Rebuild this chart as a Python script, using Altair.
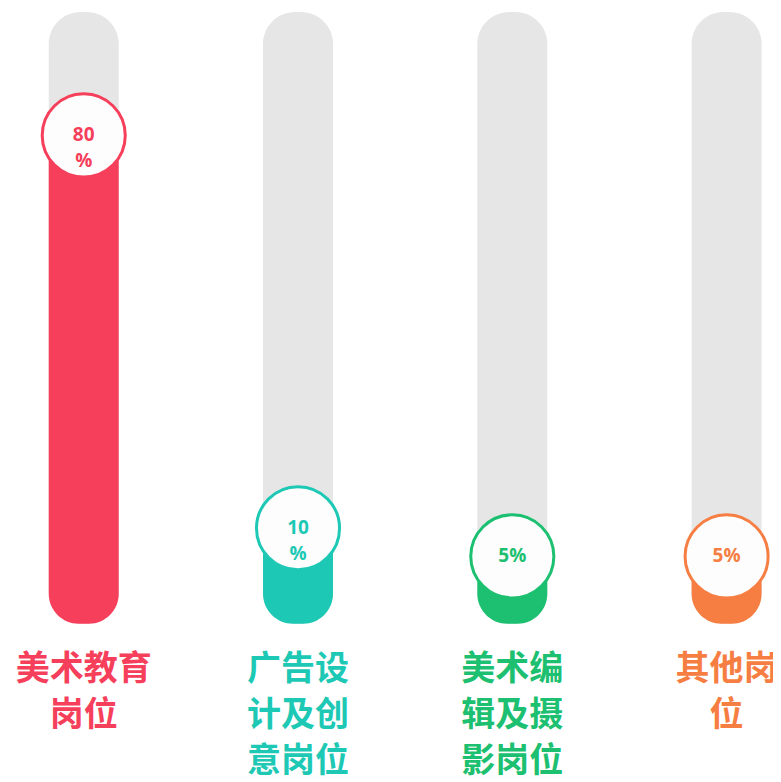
import altair as alt
import pandas as pd

categories = ["美术教育岗位", "广告设计及创意岗位", "美术编辑及摄影岗位", "其他岗位"]
values = [80, 10, 5, 5]
value_labels = ["80\n%", "10\n%", "5%", "5%"]
name_lines = ["美术教育\n岗位", "广告设\n计及创\n意岗位", "美术编\n辑及摄\n影岗位", "其他岗\n位"]
fill_colors = ["#F63F5B", "#1DC8B4", "#1CC070", "#F67E42"]
ring_colors = ["#E05A70", "#3CB8A6", "#33B37A", "#EE9470"]
text_colors = ["#E84860", "#2FB3A0", "#2EA86E", "#E8865C"]

TRACK_LO, TRACK_HI = -7, 102

df = pd.DataFrame({
    "cat": categories,
    "value": values,
    "vlabel": value_labels,
    "name": name_lines,
    "lo": [TRACK_LO] * 4,
    "hi": [TRACK_HI] * 4,
})

x = alt.X("cat:N", sort=categories, axis=None,
          scale=alt.Scale(type="point", padding=0.285, align=0.62))
y_scale = alt.Scale(domain=[-35.2, 102.7], nice=False, zero=False)
color_fill = alt.Color("cat:N", sort=categories, legend=None,
                       scale=alt.Scale(domain=categories, range=fill_colors))
color_ring = alt.Color("cat:N", sort=categories, legend=None,
                       scale=alt.Scale(domain=categories, range=ring_colors))
color_text = alt.Color("cat:N", sort=categories, legend=None,
                       scale=alt.Scale(domain=categories, range=text_colors))

base = alt.Chart(df)

track = base.mark_bar(color="#E6E6E6", size=70, cornerRadius=32).encode(
    x=x, y=alt.Y("lo:Q", scale=y_scale, axis=None), y2="hi:Q")

fill = base.mark_bar(size=70, cornerRadiusBottomLeft=30, cornerRadiusBottomRight=30).encode(
    x=x, y=alt.Y("lo:Q", scale=y_scale, axis=None), y2="value:Q", color=color_fill)

ring = base.mark_point(shape="circle", filled=False, size=6900, strokeWidth=3,
                       fill="#FDFDFD", fillOpacity=1, opacity=1).encode(
    x=x, y=alt.Y("value:Q", scale=y_scale, axis=None), color=color_ring)

vtext = base.mark_text(fontSize=19, fontWeight="bold", font="Open Sans",
                       lineBreak="\n", lineHeight=26, baseline="middle").encode(
    x=x, y=alt.Y("value:Q", scale=y_scale, axis=None), text="vlabel:N", color=color_text)

names = base.mark_text(fontSize=34, fontWeight="bold", font="Noto Sans CJK SC",
                       lineBreak="\n", lineHeight=46, baseline="top", align="center").encode(
    x=x, y=alt.value(645), text="name:N", color=color_text)

chart = alt.layer(track, fill, ring, vtext, names).properties(
    width=765, height=774, autosize="none", padding=0, background="white"
).configure_view(stroke=None)

chart.save("out.html", embed_options={"renderer": "svg", "actions": False})
